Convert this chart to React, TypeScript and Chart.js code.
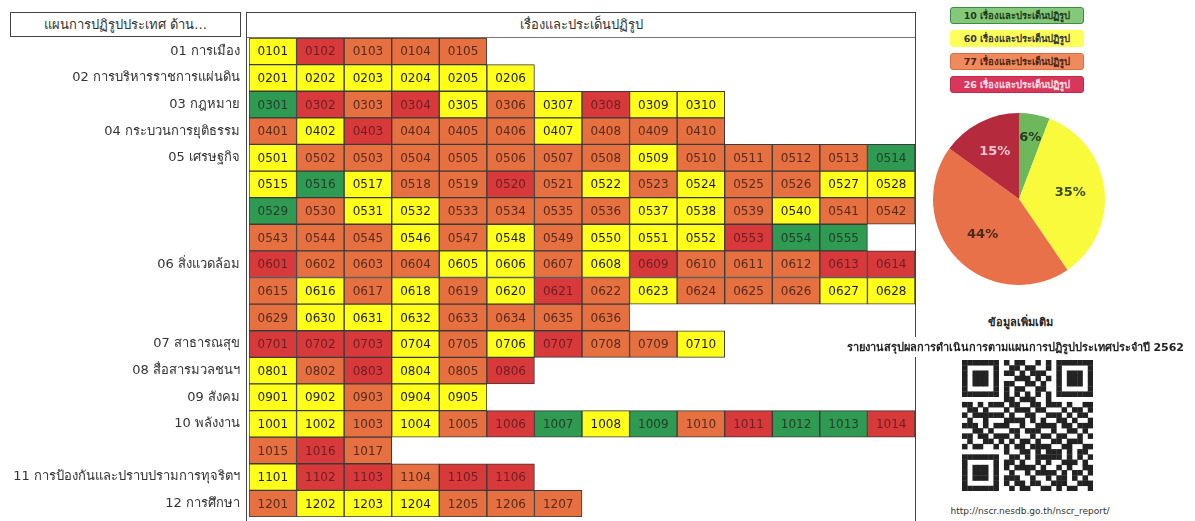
import React, { useEffect, useRef } from 'react';
import { Chart, registerables } from 'chart.js';
Chart.register(...registerables);

// ---------- data ----------
const rowLabels = [
  '01 การเมือง',
  '02 การบริหารราชการแผ่นดิน',
  '03 กฎหมาย',
  '04 กระบวนการยุติธรรม',
  '05 เศรษฐกิจ',
  '',
  '',
  '',
  '06 สิ่งแวดล้อม',
  '',
  '',
  '07 สาธารณสุข',
  '08 สื่อสารมวลชนฯ',
  '09 สังคม',
  '10 พลังงาน',
  '',
  '11 การป้องกันและปราบปรามการทุจริตฯ',
  '12 การศึกษา',
];
const rowGroups = ['01', '02', '03', '04', '05', '05', '05', '05', '06', '06', '06', '07', '08', '09', '10', '10', '11', '12'];
const rowStarts = [1, 1, 1, 1, 1, 15, 29, 43, 1, 15, 29, 1, 1, 1, 1, 15, 1, 1];
// G = green, Y = yellow, O = orange, R = red (one letter per cell)
const rowStatus = [
  'YROOO',
  'YYYYYY',
  'GRORYOYRYY',
  'OYROOOYOOO',
  'YOOOOOOOYOOOOG',
  'YGYOOROYOYOOYY',
  'GOYYOOOOYYOYOO',
  'OOOYOYOYYYRGG',
  'ROOOYYOYROOORR',
  'OYOYOYROYOOOYY',
  'OYYYOOOO',
  'RRRYOYROOY',
  'YORYOR',
  'YYOYY',
  'YYOYORGYGORGGR',
  'ORO',
  'YRRORR',
  'OYYYOOO',
];
const columnCount = 14;

const pieCounts = [10, 60, 77, 26];
const pieTexts = ['6%', '35%', '44%', '15%'];
const legendTexts = [
  '10 เรื่องและประเด็นปฏิรูป',
  '60 เรื่องและประเด็นปฏิรูป',
  '77 เรื่องและประเด็นปฏิรูป',
  '26 เรื่องและประเด็นปฏิรูป',
];

// ---------- styles ----------
const FONT = "'DejaVu Sans', 'Noto Sans', sans-serif";
const cellColors: Record<string, string> = { G: '#2e9a52', Y: '#ffff1a', O: '#e6703f', R: '#d83a3c' };
const cellTextColors: Record<string, string> = {
  G: 'rgba(35,45,35,0.85)',
  Y: '#1e1e10',
  O: 'rgba(70,35,25,0.9)',
  R: 'rgba(90,25,30,0.85)',
};
const pieColors = ['#6cb85a', '#fafa3c', '#e8714a', '#b52a3c'];
const pieTextColors = ['#2b3a22', '#3c4a18', '#4a2a1c', '#f4c6d6'];
const pieTextRadius = [0.72, 0.6, 0.59, 0.62];
const legendStyles = [
  { bg: '#84c97a', border: '#3f8a45', color: '#1e3a1c' },
  { bg: '#ffff5a', border: '#ffff5a', color: '#333' },
  { bg: '#ee8a5e', border: '#d9703f', color: '#4a2414' },
  { bg: '#d8365a', border: '#c22a4c', color: '#fbe0ea' },
];

const qrRows = [
  '1111111010110010101111111',
  '1000001001101100101000001',
  '1011101011010111001011101',
  '1011101000111010101011101',
  '1011101011001101001011101',
  '1000001010110011001000001',
  '1111111010101010101111111',
  '0000000011011100100000000',
  '1101011101100110111010011',
  '0110100010111011000101101',
  '1011111101001100111010110',
  '0100100011110101001101001',
  '1110101110010011110110111',
  '0011010001101110010011010',
  '1101101110100101101100101',
  '0100110101011010011011100',
  '1011001010110111100110011',
  '0000000010011010111010110',
  '1111111001101011111010101',
  '1000001011010010100111010',
  '1011101010111101001010011',
  '1011101001001011110101101',
  '1011101011100100101101010',
  '1000001010110110011100111',
  '1111111001011001101011001',
];

type Cell = { row: number; col: number; code: string; s: string };
const cells: Cell[] = [];
rowStatus.forEach((st, r) => {
  st.split('').forEach((s, i) => {
    cells.push({ row: r, col: i, code: rowGroups[r] + String(rowStarts[r] + i).padStart(2, '0'), s });
  });
});
const rowIds = rowLabels.map((l, i) => `row${i}`);

const cellTextPlugin = {
  id: 'cellText',
  afterDatasetsDraw(chart: any) {
    const meta = chart.getDatasetMeta(0);
    const ctx = chart.ctx;
    ctx.save();
    ctx.font = `12px ${FONT}`;
    ctx.textAlign = 'center';
    ctx.textBaseline = 'middle';
    meta.data.forEach((el: any, i: number) => {
      const c = cells[i];
      const p = el.getCenterPoint();
      ctx.fillStyle = cellTextColors[c.s];
      ctx.fillText(c.code, p.x, p.y + 1);
    });
    ctx.restore();
  },
};

const pieTextPlugin = {
  id: 'pieText',
  afterDatasetsDraw(chart: any) {
    const meta = chart.getDatasetMeta(0);
    const ctx = chart.ctx;
    ctx.save();
    ctx.font = `bold 13px ${FONT}`;
    ctx.textAlign = 'center';
    ctx.textBaseline = 'middle';
    meta.data.forEach((el: any, i: number) => {
      const mid = (el.startAngle + el.endAngle) / 2;
      const r = el.outerRadius * pieTextRadius[i];
      ctx.fillStyle = pieTextColors[i];
      ctx.fillText(pieTexts[i], el.x + Math.cos(mid) * r, el.y + Math.sin(mid) * r);
    });
    ctx.restore();
  },
};

function GridChart() {
  const ref = useRef<HTMLCanvasElement>(null);
  useEffect(() => {
    const chart = new Chart(ref.current!, {
      type: 'bar',
      data: {
        labels: rowIds,
        datasets: [
          {
            data: cells.map((c) => ({ x: [c.col, c.col + 1], y: rowIds[c.row] })) as any,
            backgroundColor: cells.map((c) => cellColors[c.s]),
            borderColor: '#3a3a3a',
            borderWidth: 1,
            borderSkipped: false,
            barPercentage: 1,
            categoryPercentage: 1,
          },
        ],
      },
      options: {
        indexAxis: 'y',
        animation: false,
        responsive: true,
        maintainAspectRatio: false,
        layout: { padding: { top: 1, bottom: 4, right: 5, left: 0 } },
        plugins: { legend: { display: false }, tooltip: { enabled: false } },
        scales: {
          x: { type: 'linear', min: 0, max: columnCount, display: false },
          y: {
            type: 'category',
            grid: { display: false, drawTicks: false },
            border: { display: false },
            ticks: {
              autoSkip: false,
              padding: 9,
              color: '#333',
              font: { size: 13, family: FONT },
              callback: (_v: any, i: number) => rowLabels[i],
            },
            afterFit: (s: any) => {
              s.width = 249;
              s.paddingTop = 0;
              s.paddingBottom = 0;
            },
          },
        },
      },
      plugins: [cellTextPlugin],
    } as any);
    return () => chart.destroy();
  }, []);
  return <canvas ref={ref} />;
}

function PieChart() {
  const ref = useRef<HTMLCanvasElement>(null);
  useEffect(() => {
    const chart = new Chart(ref.current!, {
      type: 'pie',
      data: {
        labels: legendTexts,
        datasets: [{ data: pieCounts, backgroundColor: pieColors, borderWidth: 0 }],
      },
      options: {
        animation: false,
        responsive: true,
        maintainAspectRatio: false,
        layout: { padding: 0 },
        plugins: { legend: { display: false }, tooltip: { enabled: false } },
      },
      plugins: [pieTextPlugin],
    } as any);
    return () => chart.destroy();
  }, []);
  return <canvas ref={ref} />;
}

function QR() {
  const n = qrRows.length;
  const size = 131;
  const m = size / n;
  return (
    <svg width={size} height={size} style={{ position: 'absolute', left: 962, top: 360 }}>
      {qrRows.map((row, r) =>
        row.split('').map((b, c) =>
          b === '1' ? <rect key={`${r}-${c}`} x={c * m} y={r * m} width={m + 0.3} height={m + 0.3} fill="#222" /> : null
        )
      )}
    </svg>
  );
}

export default function App() {
  return (
    <div
      style={{
        position: 'fixed',
        left: 0,
        top: 0,
        width: 1195,
        height: 521,
        background: '#fff',
        overflow: 'hidden',
        fontFamily: FONT,
        color: '#333',
      }}
    >
      {/* left header */}
      <div
        style={{
          position: 'absolute',
          left: 10,
          top: 12,
          width: 229,
          height: 23,
          border: '1px solid #444',
          fontSize: 13,
          lineHeight: '23px',
          textAlign: 'center',
        }}
      >
        แผนการปฏิรูปประเทศ ด้าน...
      </div>
      {/* grid frame */}
      <div
        style={{
          position: 'absolute',
          left: 246,
          top: 12,
          width: 668,
          height: 520,
          borderLeft: '1px solid #444',
          borderRight: '1px solid #444',
          borderTop: '1px solid #444',
        }}
      />
      <div
        style={{
          position: 'absolute',
          left: 247,
          top: 13,
          width: 668,
          height: 24,
          borderBottom: '1px solid #777',
          fontSize: 13,
          lineHeight: '24px',
          textAlign: 'center',
        }}
      >
        เรื่องและประเด็นปฏิรูป
      </div>
      <div style={{ position: 'absolute', left: 0, top: 37, width: 920, height: 484 }}>
        <GridChart />
      </div>
      {/* legend */}
      {legendTexts.map((t, i) => (
        <div
          key={i}
          style={{
            position: 'absolute',
            left: 950,
            top: 7 + i * 23,
            width: 132,
            height: 15,
            background: legendStyles[i].bg,
            border: `1px solid ${legendStyles[i].border}`,
            borderRadius: 3,
            color: legendStyles[i].color,
            fontSize: 9.5,
            fontWeight: 'bold',
            lineHeight: '15px',
            textAlign: 'center',
          }}
        >
          {t}
        </div>
      ))}
      <div style={{ position: 'absolute', left: 931, top: 113, width: 176, height: 172 }}>
        <PieChart />
      </div>
      <div
        style={{
          position: 'absolute',
          left: 960,
          top: 313,
          width: 120,
          textAlign: 'center',
          fontSize: 11,
          fontWeight: 'bold',
          color: '#222',
        }}
      >
        ข้อมูลเพิ่มเติม
      </div>
      <div
        style={{
          position: 'absolute',
          right: 11,
          top: 337,
          background: '#fff',
          fontSize: 11,
          fontWeight: 'bold',
          color: '#222',
          whiteSpace: 'nowrap',
          padding: '1px 0 1px 4px',
        }}
      >
        รายงานสรุปผลการดำเนินการตามแผนการปฏิรูปประเทศประจำปี 2562
      </div>
      <QR />
      <div
        style={{
          position: 'absolute',
          left: 930,
          top: 506,
          width: 200,
          textAlign: 'center',
          fontSize: 9,
          color: '#333',
        }}
      >
        http://nscr.nesdb.go.th/nscr_report/
      </div>
    </div>
  );
}
